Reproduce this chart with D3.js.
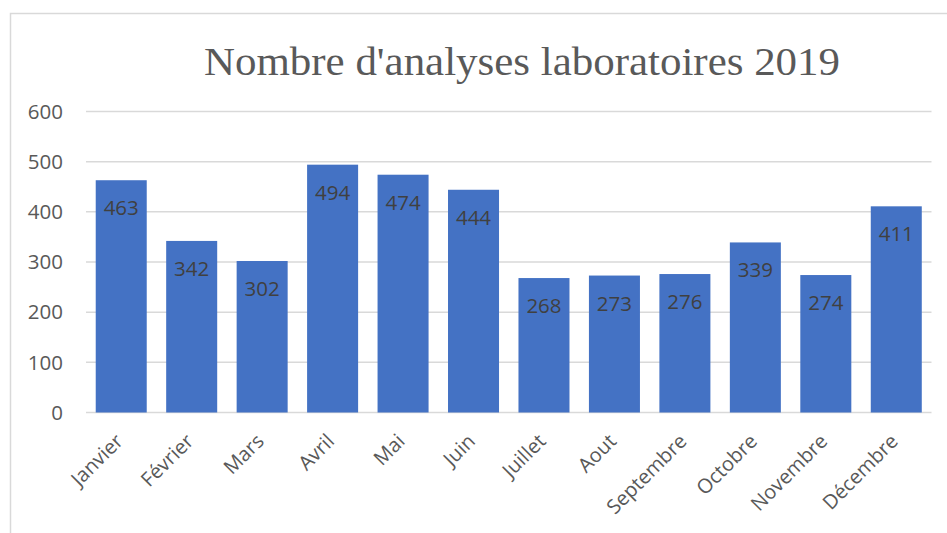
<!DOCTYPE html>
<html>
<head>
<meta charset="utf-8">
<script src="https://cdn.jsdelivr.net/npm/d3@7"></script>
<style>
  body { margin: 0; background: #fff; }
  svg { display: block; }
</style>
</head>
<body>
<div id="chart"></div>
<script>
const months = ["Janvier", "Février", "Mars", "Avril", "Mai", "Juin",
  "Juillet", "Aout", "Septembre", "Octobre", "Novembre", "Décembre"];
const analyses = [463, 342, 302, 494, 474, 444, 268, 273, 276, 339, 274, 411];
const yTicks = [0, 100, 200, 300, 400, 500, 600];
const title = "Nombre d'analyses laboratoires 2019";

const width = 947, height = 533;
const margin = { top: 111.5, right: 15.5, bottom: 120.5, left: 86 };

const svg = d3.select("#chart").append("svg")
  .attr("width", width)
  .attr("height", height);

// chart frame (runs off the right/bottom edge)
svg.append("rect")
  .attr("x", 10.5).attr("y", 13.5)
  .attr("width", 960).attr("height", 560)
  .attr("fill", "none")
  .attr("stroke", "#d9d9d9")
  .attr("stroke-width", 1.5);

const x = d3.scaleBand(months, [margin.left, width - margin.right])
  .paddingInner(0.276)
  .paddingOuter(0.138);

const y = d3.scaleLinear([0, 600], [height - margin.bottom, margin.top]);

// grid lines
svg.append("g")
  .selectAll("line")
  .data(yTicks)
  .join("line")
  .attr("x1", margin.left)
  .attr("x2", width - margin.right)
  .attr("y1", (d) => y(d))
  .attr("y2", (d) => y(d))
  .attr("stroke", "#d9d9d9")
  .attr("stroke-width", 1.5);

// y labels
svg.append("g")
  .selectAll("text")
  .data(yTicks)
  .join("text")
  .attr("x", 63)
  .attr("y", (d) => y(d))
  .attr("dy", "0.35em")
  .attr("text-anchor", "end")
  .attr("font-family", "Open Sans, sans-serif")
  .attr("font-size", 20.5)
  .attr("fill", "#595959")
  .text((d) => d);

// bars
svg.append("g")
  .selectAll("rect")
  .data(analyses)
  .join("rect")
  .attr("x", (d, i) => x(months[i]))
  .attr("y", (d) => y(d))
  .attr("width", x.bandwidth())
  .attr("height", (d) => y(0) - y(d))
  .attr("fill", "#4472c4");

// value labels inside bar tops
svg.append("g")
  .selectAll("text")
  .data(analyses)
  .join("text")
  .attr("x", (d, i) => x(months[i]) + x.bandwidth() / 2)
  .attr("y", (d) => y(d) + 35)
  .attr("text-anchor", "middle")
  .attr("font-family", "Open Sans, sans-serif")
  .attr("font-size", 20.5)
  .attr("fill", "#404040")
  .text((d) => d);

// x labels, rotated
svg.append("g")
  .selectAll("text")
  .data(months)
  .join("text")
  .attr("transform", (d) =>
    `translate(${x(d) + x.bandwidth() / 2 + 3},${y(0) + 30}) rotate(-45)`)
  .attr("text-anchor", "end")
  .attr("font-family", "Open Sans, sans-serif")
  .attr("font-size", 20)
  .attr("fill", "#595959")
  .text((d) => d);

// title
svg.append("text")
  .attr("x", 522)
  .attr("y", 75)
  .attr("text-anchor", "middle")
  .attr("font-family", "Liberation Serif, serif")
  .attr("font-size", 40)
  .attr("fill", "#595959")
  .attr("textLength", 636)
  .attr("lengthAdjust", "spacingAndGlyphs")
  .text(title);
</script>
</body>
</html>
